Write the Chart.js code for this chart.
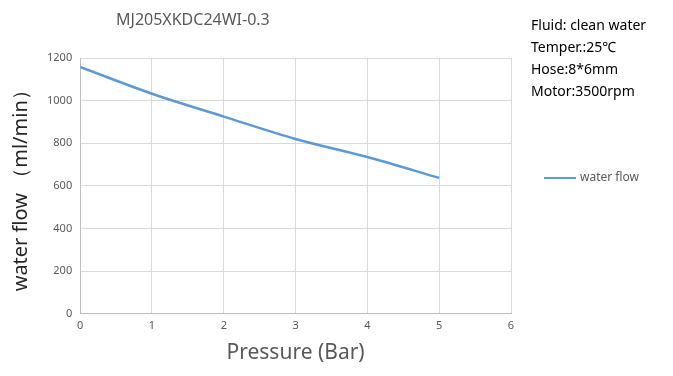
<!DOCTYPE html>
<html>
<head>
<meta charset="utf-8">
<script src="https://cdn.jsdelivr.net/npm/chart.js@4/dist/chart.umd.min.js"></script>
<style>
  html, body { margin: 0; padding: 0; background: #fff; }
  #wrap { position: relative; width: 673px; height: 376px; }
  #title { position: absolute; left: 116px; top: 8px; font: 16px "Noto Sans", sans-serif; color: #595959; }
  #notes { position: absolute; left: 531px; top: 14px; font: 14px "Noto Sans", sans-serif; color: #000; line-height: 22px; }
</style>
</head>
<body>
<div id="wrap">
  <canvas id="myChart" width="673" height="376"></canvas>
  <div id="title">MJ205XKDC24WI-0.3</div>
  <div id="notes">
    <div>Fluid: clean water</div>
    <div>Temper.:25℃</div>
    <div>Hose:8*6mm</div>
    <div>Motor:3500rpm</div>
  </div>
</div>
<script>
const pressure = [0, 1, 2, 3, 4, 5];
const waterFlow = [1158, 1032, 925, 820, 735, 637];
const seriesLabel = "water flow";
const xTitle = "Pressure (Bar)";
const yTitle = "water flow （ml/min）";

// legend drawn at the right side, like the original
const sideLegend = {
  id: "sideLegend",
  afterDraw(chart) {
    const ctx = chart.ctx;
    const ds = chart.data.datasets[0];
    ctx.save();
    ctx.strokeStyle = ds.borderColor;
    ctx.lineWidth = 2;
    ctx.beginPath();
    ctx.moveTo(544, 178);
    ctx.lineTo(576, 178);
    ctx.stroke();
    ctx.fillStyle = "#595959";
    ctx.font = '12px "Noto Sans", sans-serif';
    ctx.textBaseline = "middle";
    ctx.fillText(ds.label, 580, 178);
    ctx.restore();
  },
};

new Chart(document.getElementById("myChart").getContext("2d"), {
  type: "line",
  data: {
    datasets: [
      {
        label: seriesLabel,
        data: pressure.map((p, i) => ({ x: p, y: waterFlow[i] })),
        borderColor: "#5b9bd5",
        borderWidth: 2.5,
        pointRadius: 0,
        tension: 0.4,
        cubicInterpolationMode: "monotone",
        fill: false,
      },
    ],
  },
  options: {
    responsive: false,
    animation: false,
    layout: { padding: { left: 5, right: 162, top: 58, bottom: 6 } },
    plugins: {
      legend: { display: false },
      tooltip: { enabled: false },
    },
    scales: {
      x: {
        type: "linear",
        min: 0,
        max: 6,
        ticks: { stepSize: 1, color: "#595959", font: { size: 11, family: "Noto Sans" }, padding: 6 },
        grid: { color: "#d9d9d9", drawTicks: false },
        border: { color: "#bfbfbf" },
        title: { display: true, text: xTitle, color: "#595959", font: { size: 21, family: "Noto Sans" }, padding: { top: 2 } },
      },
      y: {
        min: 0,
        max: 1200,
        ticks: { stepSize: 200, color: "#595959", font: { size: 11, family: "Noto Sans" }, padding: 8, callback: (v) => String(v) },
        grid: { color: "#d9d9d9", drawTicks: false },
        border: { color: "#bfbfbf" },
        title: { display: true, text: yTitle, color: "#262626", font: { size: 20, family: "Noto Sans" }, padding: { bottom: 6 } },
      },
    },
  },
  plugins: [sideLegend],
});
</script>
</body>
</html>
